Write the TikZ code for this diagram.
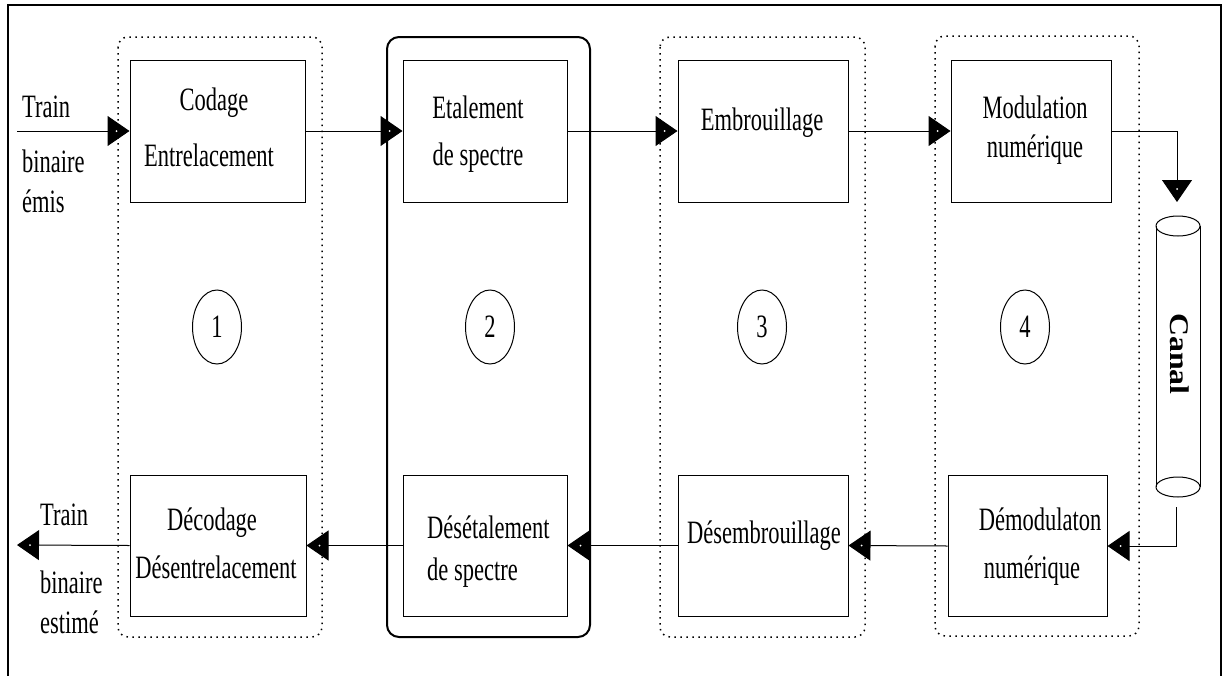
\documentclass[tikz,border=0pt]{standalone}
\usepackage{fontspec}
\setmainfont{Liberation Serif}
\usepackage{graphicx}
\usetikzlibrary{arrows.meta,calc,shapes.geometric}
\newcommand{\vt}[1]{\scalebox{1}[1.45]{#1}}
\tikzset{
  box/.style={draw,line width=1pt,rectangle,inner sep=0},
  lbl/.style={inner sep=0,anchor=base,font=\fontsize{22.5}{27}\selectfont},
  lblw/.style={lbl,anchor=base west},
  grpdot/.style={line width=1.5pt,dash pattern=on 1.5pt off 4.5pt,rounded corners=10pt},
  grpsol/.style={line width=2pt,rounded corners=12pt},
  conn/.style={line width=1pt,-{Triangle[length=22pt,width=30pt]}},
  num/.style={draw,ellipse,line width=1pt,minimum width=49pt,minimum height=74pt,inner sep=0,font=\fontsize{22.5}{27}\selectfont},
  tipdot/.style={fill=white},
  frame/.style={line width=1.5pt},
  cyl/.style={line width=1pt}
}
\begin{document}
\begin{tikzpicture}[x=1pt,y=-1pt]
\useasboundingbox (0,0) rectangle (1226,675);
% outer frame
\draw[frame] (8,700) -- (8,5) -- (1221,5) -- (1221,700);
% groups
\draw[grpdot] (118,37) rectangle (322,637);
\draw[grpsol] (387,37) rectangle (590,637);
\draw[grpdot] (660,37) rectangle (865,637);
\draw[grpdot] (935,36) rectangle (1139,636);
% top boxes
\node[box,minimum width=175pt,minimum height=142pt] (cod) at (217.5,131) {};
\node[box,minimum width=164pt,minimum height=142pt] (eta) at (485,131) {};
\node[box,minimum width=170pt,minimum height=142pt] (emb) at (763,131) {};
\node[box,minimum width=160pt,minimum height=142pt] (mod) at (1031,131) {};
% bottom boxes
\node[box,minimum width=176pt,minimum height=141pt] (dec) at (218,545.5) {};
\node[box,minimum width=164pt,minimum height=141pt] (des) at (485,545.5) {};
\node[box,minimum width=170pt,minimum height=141pt] (dem) at (763,545.5) {};
\node[box,minimum width=159pt,minimum height=141pt] (dmo) at (1027.5,546) {};
% texts in boxes
\node[lbl] (codA) at (214,110) {\vt{Codage}};
\node[lbl] (codB) at (209,166) {\vt{Entrelacement}};
\node[lbl] (etaA) at (478,118) {\vt{Etalement}};
\node[lbl] (etaB) at (478,165) {\vt{de spectre}};
\node[lbl] (embA) at (762,130) {\vt{Embrouillage}};
\node[lbl] (modA) at (1035,118) {\vt{Modulation}};
\node[lbl] (modB) at (1035,157) {\vt{numérique}};
\node[lbl] (decA) at (212,530) {\vt{Décodage}};
\node[lbl] (decB) at (216,578) {\vt{Désentrelacement}};
\node[lblw] (desA) at (427,538) {\vt{Désétalement}};
\node[lblw] (desB) at (427,580) {\vt{de spectre}};
\node[lbl] (demA) at (764,543) {\vt{Désembrouillage}};
\node[lbl] (dmoA) at (1040,530) {\vt{Démodulaton}};
\node[lbl] (dmoB) at (1032,578) {\vt{numérique}};
% side texts
\node[lblw] (inA) at (22,117) {\vt{Train}};
\node[lblw] (inB) at (22,172) {\vt{binaire}};
\node[lblw] (inC) at (22,212) {\vt{émis}};
\node[lblw] (outA) at (40,525) {\vt{Train}};
\node[lblw] (outB) at (40,593) {\vt{binaire}};
\node[lblw] (outC) at (40,633) {\vt{estimé}};
% numbered ellipses
\node[num] (n1) at (217,327) {\vt{1}};
\node[num] (n2) at (490,327) {\vt{2}};
\node[num] (n3) at (762,327) {\vt{3}};
\node[num] (n4) at (1025,327) {\vt{4}};
% channel cylinder
\draw[cyl] (1156,226) -- (1156,487) (1200,226) -- (1200,487);
\draw[cyl] (1178,226) ellipse [x radius=22pt,y radius=10pt];
\draw[cyl] (1178,487) ellipse [x radius=22pt,y radius=10pt];
\node[inner sep=0,rotate=-90,font=\bfseries\fontsize{27}{30}\selectfont] (canal) at (1180,354) {\scalebox{1.18}[1]{Canal}};
% coordinates
\coordinate (tin) at (17,131);
\coordinate (tout) at (17,545);
\coordinate (cin) at (1177,202);
\coordinate (cout) at (1176,507);
% connectors
\draw[conn] (tin) -- (cod.west);
\draw[conn] (cod.east) -- (eta.west);
\draw[conn] (eta.east) -- (emb.west);
\draw[conn] (emb.east) -- (mod.west);
\draw[conn] (mod.east) -| (cin);
\draw[conn] (cout) |- (dmo.east);
\draw[conn] (dmo.west) -- (dem.east);
\draw[conn] (dem.west) -- (des.east);
\draw[conn] (des.west) -- (dec.east);
\draw[conn] (dec.west) -- (tout);
% white dots in arrow heads
\fill[tipdot] ($(cod.west)+(-13,0)$) circle (1pt);
\fill[tipdot] ($(eta.west)+(-13,0)$) circle (1pt);
\fill[tipdot] ($(emb.west)+(-13,0)$) circle (1pt);
\fill[tipdot] ($(mod.west)+(-13,0)$) circle (1pt);
\fill[tipdot] ($(cin)+(0,-13)$) circle (1pt);
\fill[tipdot] ($(dmo.east)+(13,0)$) circle (1pt);
\fill[tipdot] ($(dem.east)+(13,0)$) circle (1pt);
\fill[tipdot] ($(des.east)+(13,0)$) circle (1pt);
\fill[tipdot] ($(dec.east)+(13,0)$) circle (1pt);
\fill[tipdot] ($(tout)+(13,0)$) circle (1pt);
\end{tikzpicture}
\end{document}
